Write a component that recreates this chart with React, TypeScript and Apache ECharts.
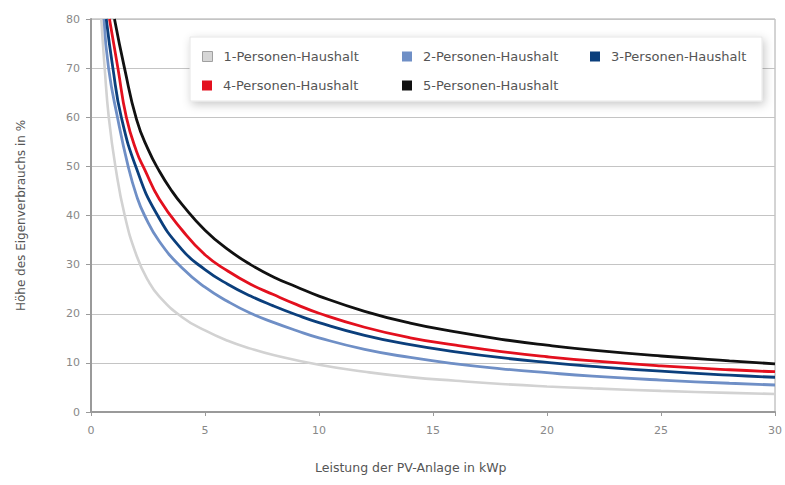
import React, { useEffect, useRef } from "react";
import * as echarts from "echarts";

const seriesNames = [
  "1-Personen-Haushalt",
  "2-Personen-Haushalt",
  "3-Personen-Haushalt",
  "4-Personen-Haushalt",
  "5-Personen-Haushalt",
];

const seriesColors = ["#d2d2d2", "#6f8fc6", "#0b3f7c", "#e3101e", "#111111"];

// [kWp, %] readings per household size
const onePerson = [
  [0.45, 80], [0.6, 70], [0.78, 60], [1.07, 50], [1.48, 40], [2, 31.8], [2.5, 26.8], [3, 23.5],
  [4, 19.3], [5, 16.6], [6, 14.5], [7, 12.9], [8, 11.6], [10, 9.6], [12, 8.2], [14, 7.1],
  [16, 6.35], [18, 5.7], [20, 5.2], [22, 4.8], [25, 4.3], [28, 3.9], [30, 3.67],
];
const twoPersons = [
  [0.57, 80], [0.77, 70], [1.16, 60], [1.63, 50], [2, 44], [2.35, 40], [3, 34.7], [4, 29.3],
  [5, 25.4], [6, 22.5], [7, 20.1], [8, 18.25], [9, 16.6], [10, 15.1], [12, 12.75], [14, 11.1],
  [16, 9.8], [18, 8.8], [20, 8.0], [22, 7.3], [25, 6.5], [28, 5.85], [30, 5.5],
];
const threePersons = [
  [0.67, 80], [0.96, 70], [1.33, 60], [2, 49.5], [2.86, 40.5], [4, 33], [5, 29], [6, 26],
  [7, 23.6], [8, 21.6], [9, 19.8], [10, 18.2], [12, 15.6], [14, 13.7], [16, 12.25], [18, 11.05],
  [20, 10.1], [22, 9.3], [25, 8.3], [28, 7.5], [30, 7.07],
];
const fourPersons = [
  [0.81, 80], [1.18, 70], [1.55, 60], [2, 53], [2.35, 49.4], [3, 43.3], [4, 37], [5, 32],
  [6, 28.7], [7, 26], [8, 23.9], [9, 21.9], [10, 20.1], [12, 17.25], [14, 15.1], [16, 13.6],
  [18, 12.3], [20, 11.25], [22, 10.4], [25, 9.4], [28, 8.6], [30, 8.2],
];
const fivePersons = [
  [1.03, 80], [1.47, 70], [2, 59.5], [2.5, 53.5], [3, 49], [3.5, 45.3], [4, 42.2], [5, 37],
  [6, 33.1], [7, 30], [8, 27.5], [9, 25.5], [10, 23.6], [12, 20.5], [14, 18.1], [16, 16.3],
  [18, 14.8], [20, 13.6], [22, 12.6], [25, 11.4], [28, 10.4], [30, 9.8],
];

const seriesData = [onePerson, twoPersons, threePersons, fourPersons, fivePersons];

const xAxisName = "Leistung der PV-Anlage in kWp";
const yAxisName = "Höhe des Eigenverbrauchs in %";

const FONT = "DejaVu Sans";

// legend grid placement (column left edge, row top) for each household entry
const legendSlots = [
  [202, 50],
  [402, 50],
  [590, 50],
  [202, 79],
  [402, 79],
];

export default function App() {
  const ref = useRef<HTMLDivElement>(null);

  useEffect(() => {
    if (!ref.current) return;
    const chart = echarts.init(ref.current, undefined, { renderer: "svg" });

    const legends = seriesNames.map((n, i) => ({
      z: 10,
      left: legendSlots[i][0],
      top: legendSlots[i][1],
      padding: 0,
      itemWidth: 10,
      itemHeight: 10,
      icon: "rect",
      textStyle: {
        fontFamily: FONT,
        fontSize: 13,
        color: "#555555",
        padding: [0, 0, 0, 6],
      },
      data: [
        {
          name: n,
          icon: "rect",
          itemStyle:
            i === 0
              ? { color: "#d6d6d6", borderColor: "#a0a0a0", borderWidth: 1 }
              : { color: seriesColors[i], borderWidth: 0 },
        },
      ],
    }));

    const option: any = {
      animation: false,
      backgroundColor: "#ffffff",
      grid: {
        left: 91,
        right: 5,
        top: 19,
        bottom: 73,
        containLabel: false,
        show: true,
        borderColor: "#a8a8a8",
        borderWidth: 1,
      },
      graphic: [
        {
          type: "rect",
          z: 3,
          shape: { x: 190, y: 37, width: 572, height: 64 },
          style: {
            fill: "#ffffff",
            stroke: "#e6e6e6",
            lineWidth: 1,
            shadowBlur: 10,
            shadowColor: "rgba(0,0,0,0.22)",
            shadowOffsetX: 2,
            shadowOffsetY: 3,
          },
        },
        {
          type: "text",
          z: 3,
          left: 315,
          top: 461,
          style: {
            text: xAxisName,
            fill: "#555555",
            font: `12.5px "${FONT}"`,
          },
        },
      ],
      legend: legends,
      xAxis: {
        type: "value",
        min: 0,
        max: 30,
        interval: 5,
        axisLine: { show: true, onZero: false, lineStyle: { color: "#9a9a9a", width: 2 } },
        axisTick: { show: true, length: 4, lineStyle: { color: "#9a9a9a" } },
        axisLabel: { margin: 13, fontFamily: FONT, fontSize: 11, color: "#888888" },
        splitLine: { show: false },
      },
      yAxis: {
        type: "value",
        min: 0,
        max: 80,
        interval: 10,
        name: yAxisName,
        nameLocation: "middle",
        nameGap: 64,
        nameRotate: 90,
        nameTextStyle: { fontFamily: FONT, fontSize: 12, color: "#555555" },
        axisLine: { show: true, lineStyle: { color: "#9a9a9a", width: 2 } },
        axisTick: { show: true, length: 5, lineStyle: { color: "#9a9a9a" } },
        axisLabel: { margin: 11, fontFamily: FONT, fontSize: 11, color: "#888888" },
        splitLine: { show: true, lineStyle: { color: "#c4c4c4", width: 1 } },
      },
      series: seriesNames.map((n, i) => ({
        name: n,
        type: "line",
        data: seriesData[i],
        showSymbol: false,
        symbol: "none",
        smooth: 0.5,
        clip: true,
        z: 2 + i * 0.01,
        lineStyle: { color: seriesColors[i], width: i === 0 ? 2.6 : 2.8 },
        itemStyle: { color: seriesColors[i] },
      })),
    };

    chart.setOption(option);
    return () => chart.dispose();
  }, []);

  return (
    <div
      ref={ref}
      style={{ position: "absolute", left: 0, top: 0, width: 785, height: 485 }}
    />
  );
}
